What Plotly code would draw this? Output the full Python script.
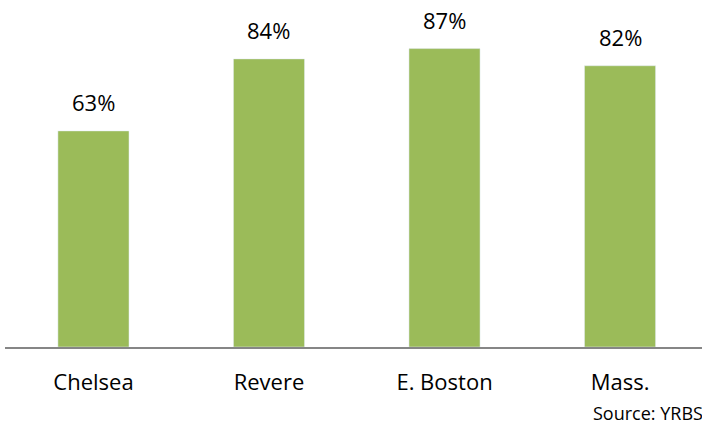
import plotly.graph_objects as go

categories = ["Chelsea", "Revere", "E. Boston", "Mass."]
values = [63, 84, 87, 82]
labels = ["63%", "84%", "87%", "82%"]
bar_color = "#9BBB59"
font_family = "Open Sans, Liberation Sans, sans-serif"

fig = go.Figure()
fig.add_trace(go.Bar(
    x=categories, y=values, marker_color=bar_color, width=0.405,
    hoverinfo="skip",
))

for c, v, t in zip(categories, values, labels):
    fig.add_annotation(x=c, y=v, text=t, showarrow=False, yanchor="middle",
                       yshift=29, font=dict(size=22, color="#000000", family=font_family))

fig.add_annotation(xref="paper", yref="paper", x=(591 - 5) / 697, y=-(413 - 347) / 343,
                   xanchor="left", yanchor="middle", text="Source: YRBS",
                   showarrow=False, font=dict(size=18, color="#000000", family=font_family))

fig.update_layout(
    width=702, height=424,
    margin=dict(l=5, r=0, t=4, b=77),
    plot_bgcolor="white", paper_bgcolor="white",
    showlegend=False,
    xaxis=dict(range=[-0.504, 3.467], showline=True, linecolor="#868686", linewidth=2,
               ticks="", showgrid=False, tickfont=dict(size=22, color="#000000", family=font_family),
               ticklabelstandoff=15),
    yaxis=dict(range=[0, 100], visible=False, showgrid=False),
    font=dict(family=font_family),
)

fig.write_html("out.html", config={"displayModeBar": False},
               post_script="document.body.style.margin='0';")
